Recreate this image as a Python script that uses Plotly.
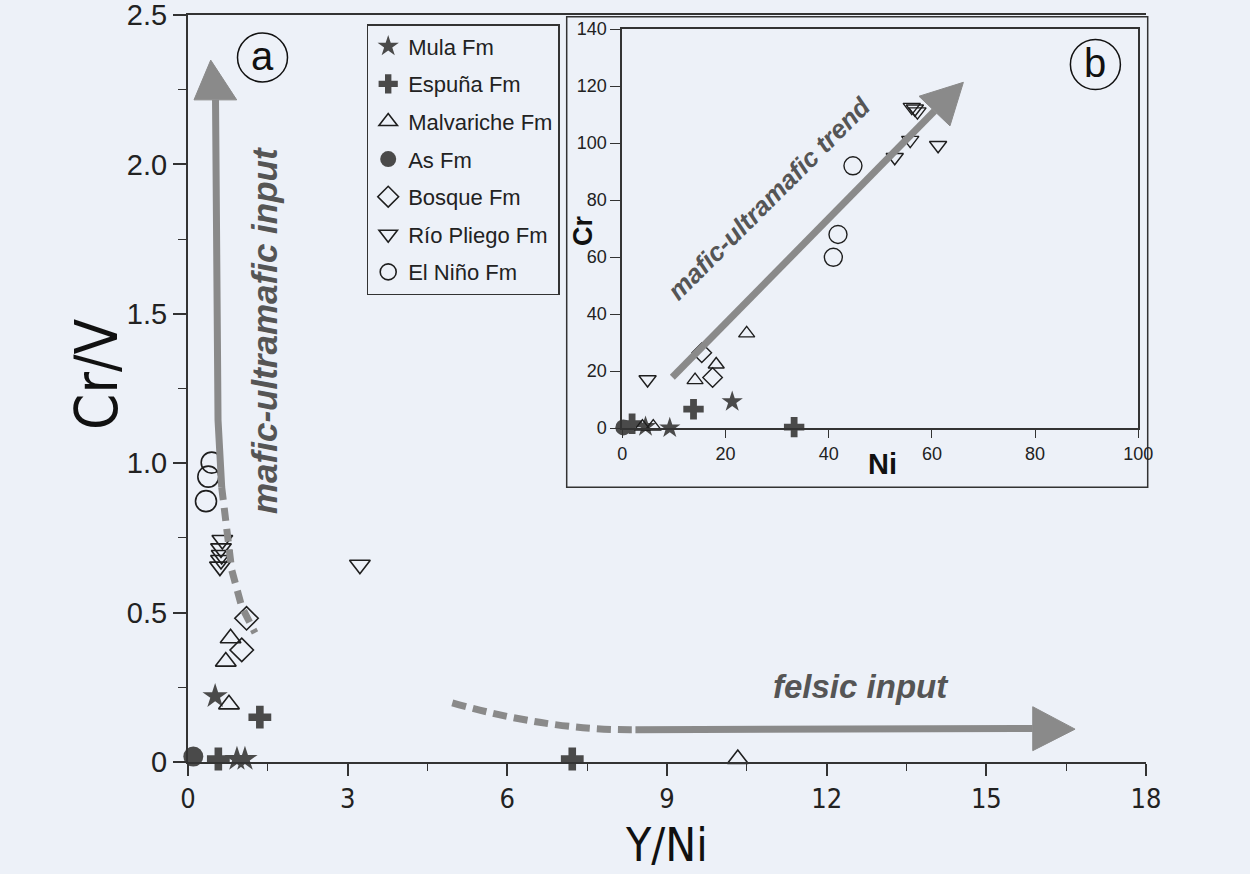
import plotly.graph_objects as go

# ---------------- data: main panel (a)  Y/Ni vs Cr/V ----------------
formations = ["Mula Fm", "Espuña Fm", "Malvariche Fm", "As Fm", "Bosque Fm", "Río Pliego Fm", "El Niño Fm"]

mula_yni = [0.51, 0.92, 1.07]
mula_crv = [0.22, 0.01, 0.01]
espuna_yni = [1.35, 0.57, 7.22]
espuna_crv = [0.15, 0.01, 0.01]
malvariche_yni = [0.80, 0.71, 0.77, 10.33]
malvariche_crv = [0.414, 0.336, 0.193, 0.01]
as_yni = [0.10]
as_crv = [0.018]
bosque_yni = [1.10, 1.01]
bosque_crv = [0.481, 0.375]
pliego_yni = [0.645, 0.62, 0.633, 0.62, 0.60, 3.23]
pliego_crv = [0.743, 0.715, 0.693, 0.676, 0.654, 0.660]
nino_yni = [0.445, 0.382, 0.338]
nino_crv = [1.002, 0.955, 0.873]

# ---------------- data: inset (b)  Ni vs Cr ----------------
mula_ni = [21.3, 9.2, 4.5]
mula_cr = [9.2, 0.0, 0.5]
espuna_ni = [13.8, 33.3, 1.9]
espuna_cr = [6.6, 0.3, 1.5]
malvariche_ni = [24.1, 18.2, 14.1, 3.9, 6.0]
malvariche_cr = [33.2, 22.3, 16.8, 0.5, 0.5]
as_ni = [0.2]
as_cr = [0.2]
bosque_ni = [15.4, 17.5]
bosque_cr = [26.4, 17.7]
pliego_ni = [4.9, 52.8, 55.8, 56.1, 56.7, 57.2, 61.2]
pliego_cr = [17.0, 95.0, 101.0, 112.6, 112.0, 111.0, 99.2]
nino_ni = [44.7, 41.8, 40.9]
nino_cr = [92.0, 67.9, 59.9]

# tick labels
x_ticks = [0, 3, 6, 9, 12, 15, 18]
y_ticks = [0, 0.5, 1.0, 1.5, 2.0, 2.5]
y_ticktext = ["0", "0.5", "1.0", "1.5", "2.0", "2.5"]
inset_x_ticks = [0, 20, 40, 60, 80, 100]
inset_y_ticks = [0, 20, 40, 60, 80, 100, 120, 140]

# trend arrows (in axis units)
mafic_solid = [(0.517, 2.216), (0.564, 1.145), (0.633, 0.920)]
mafic_dash = [(0.633, 0.920), (0.821, 0.643), (1.009, 0.520), (1.259, 0.432)]
mafic_head = [(0.113, 2.216), (0.427, 2.349), (0.915, 2.216)]
felsic_dash = [(4.966, 0.198), (6.80, 0.105), (8.407, 0.108)]
felsic_solid = [(8.407, 0.108), (15.872, 0.112)]
felsic_head = [(15.872, 0.185), (16.667, 0.110), (15.872, 0.038)]
trend_shaft = [(9.7, 17.8), (60.5, 111.2)]
trend_head = [(57.5, 116.4), (66.1, 121.3), (63.5, 106.0)]

BG = "#edf1f8"
DARK = "#4a4a4a"
INK = "#1e1e1e"
ARROW = "#8a8a8a"
NOTE = "#555555"
FONT = "Liberation Sans, Arial, sans-serif"
NARROW = "Liberation Sans Narrow, Arial Narrow, DejaVu Sans Condensed, sans-serif"

# plot-area geometry in pixels (for paper-coordinate decorations)
L, R, T, B = 188, 1146, 15, 762


def px(xp):
    return (xp - L) / (R - L)


def py(yp):
    return (B - yp) / (B - T)


styles = {
    "Mula Fm": dict(symbol="star", size=19, color=DARK, line=dict(width=0)),
    "Espuña Fm": dict(symbol="cross", size=19, color=DARK, line=dict(width=0)),
    "Malvariche Fm": dict(symbol="triangle-up-open", size=18, color=INK, line=dict(width=1.6)),
    "As Fm": dict(symbol="circle", size=20, color=DARK, line=dict(width=0)),
    "Bosque Fm": dict(symbol="diamond-open", size=18, color=INK, line=dict(width=1.6)),
    "Río Pliego Fm": dict(symbol="triangle-down-open", size=18, color=INK, line=dict(width=1.6)),
    "El Niño Fm": dict(symbol="circle-open", size=21, color=INK, line=dict(width=1.6)),
}
inset_sizes = {"Mula Fm": 16, "Espuña Fm": 17, "Malvariche Fm": 14, "As Fm": 16,
               "Bosque Fm": 15, "Río Pliego Fm": 15, "El Niño Fm": 18}

main_data = [
    (mula_yni, mula_crv), (espuna_yni, espuna_crv), (malvariche_yni, malvariche_crv),
    (as_yni, as_crv), (bosque_yni, bosque_crv), (pliego_yni, pliego_crv), (nino_yni, nino_crv),
]
inset_data = [
    (mula_ni, mula_cr), (espuna_ni, espuna_cr), (malvariche_ni, malvariche_cr),
    (as_ni, as_cr), (bosque_ni, bosque_cr), (pliego_ni, pliego_cr), (nino_ni, nino_cr),
]

fig = go.Figure()
for name, (xs, ys) in zip(formations, main_data):
    fig.add_trace(go.Scatter(x=xs, y=ys, mode="markers", name=name, legendgroup=name,
                             marker=styles[name], cliponaxis=False, xaxis="x", yaxis="y"))
for name, (xs, ys) in zip(formations, inset_data):
    st = dict(styles[name])
    st["size"] = inset_sizes[name]
    if "open" in st["symbol"]:
        st["line"] = dict(width=1.4)
    fig.add_trace(go.Scatter(x=xs, y=ys, mode="markers", name=name, legendgroup=name,
                             showlegend=False, marker=st, cliponaxis=False,
                             xaxis="x2", yaxis="y2"))


def poly(pts, close=False):
    s = "M " + " L ".join(f"{a},{b}" for a, b in pts)
    return s + (" Z" if close else "")


def quad(pts):
    (a, b), (c, d), (e, f) = pts
    return f"M {a},{b} Q {c},{d} {e},{f}"


shapes = [
    # mafic-ultramafic input arrow (panel a)
    dict(type="path", xref="x", yref="y", path=poly(mafic_solid),
         line=dict(color=ARROW, width=7)),
    dict(type="path", xref="x", yref="y", path=poly(mafic_dash),
         line=dict(color=ARROW, width=7, dash="13px,8px")),
    dict(type="path", xref="x", yref="y", path=poly(mafic_head, True),
         fillcolor=ARROW, line=dict(color=ARROW, width=1)),
    # felsic input arrow
    dict(type="path", xref="x", yref="y", path=quad(felsic_dash),
         line=dict(color=ARROW, width=7, dash="14px,7px")),
    dict(type="path", xref="x", yref="y", path=poly(felsic_solid),
         line=dict(color=ARROW, width=7)),
    dict(type="path", xref="x", yref="y", path=poly(felsic_head, True),
         fillcolor=ARROW, line=dict(color=ARROW, width=1)),
    # inset trend arrow
    dict(type="path", xref="x2", yref="y2", path=poly(trend_shaft),
         line=dict(color=ARROW, width=7)),
    dict(type="path", xref="x2", yref="y2", path=poly(trend_head, True),
         fillcolor=ARROW, line=dict(color=ARROW, width=1)),
    # inset frame
    dict(type="rect", xref="paper", yref="paper", x0=px(566.7), x1=px(1147.7),
         y0=py(487.3), y1=py(16.7), line=dict(color="#333", width=1.5), layer="below"),
    # panel labels circles
    dict(type="circle", xref="paper", yref="paper", x0=px(237.5), x1=px(287.5),
         y0=py(82), y1=py(33), line=dict(color="#111", width=1.5)),
    dict(type="circle", xref="paper", yref="paper", x0=px(1070.4), x1=px(1120.4),
         y0=py(89.5), y1=py(39.5), line=dict(color="#111", width=1.5)),
]

annotations = [
    dict(text="Cr/V", xref="paper", yref="paper", x=px(97), y=py(375), textangle=-90,
         showarrow=False, font=dict(family=NARROW, size=58, color="#111"),
         xanchor="center", yanchor="middle"),
    dict(text="Y/Ni", xref="paper", yref="paper", x=px(666), y=py(873),
         showarrow=False, font=dict(family=NARROW, size=46, color="#111"),
         xanchor="center", yanchor="bottom", borderpad=0),
    dict(text="<b><i>mafic-ultramafic input</i></b>", xref="paper", yref="paper",
         x=px(264), y=py(331), textangle=-90, showarrow=False,
         font=dict(size=35, color=NOTE), xanchor="center", yanchor="middle"),
    dict(text="<b><i>felsic input</i></b>", xref="paper", yref="paper",
         x=px(861), y=py(686), showarrow=False,
         font=dict(size=33, color=NOTE), xanchor="center", yanchor="middle"),
    dict(text="<b><i>mafic-ultramafic trend</i></b>", xref="x2", yref="y2",
         x=28.5, y=80.7, textangle=-45, showarrow=False,
         font=dict(size=26, color=NOTE), xanchor="center", yanchor="middle"),
    dict(text="a", xref="paper", yref="paper", x=px(262.5), y=py(56), showarrow=False,
         font=dict(size=40, color="#111"), xanchor="center", yanchor="middle"),
    dict(text="b", xref="paper", yref="paper", x=px(1095.4), y=py(63), showarrow=False,
         font=dict(size=40, color="#111"), xanchor="center", yanchor="middle"),
    dict(text="<b>Ni</b>", xref="paper", yref="paper", x=px(882), y=py(464),
         showarrow=False, font=dict(size=29, color="#111"), xanchor="center", yanchor="middle"),
    dict(text="<b>Cr</b>", xref="paper", yref="paper", x=px(583), y=py(231), textangle=-90,
         showarrow=False, font=dict(size=27, color="#111"), xanchor="center", yanchor="middle"),
]

axis_common = dict(showgrid=False, zeroline=False, showline=True, linecolor="#333",
                   ticks="outside", tickcolor="#333", automargin=False,
                   ticklabeloverflow="allow")

fig.update_layout(
    width=1250, height=874,
    margin=dict(l=L, r=1250 - R, t=T, b=874 - B, autoexpand=False),
    paper_bgcolor=BG, plot_bgcolor=BG,
    font=dict(family=FONT, color="#222"),
    xaxis=dict(domain=[0, 1], range=[0, 18], tickmode="array", tickvals=x_ticks,
               ticklen=12, tickwidth=1.5, linewidth=2, mirror=True,
               tickfont=dict(family=NARROW, size=27, color="#222"),
               minor=dict(tickmode="linear", tick0=0, dtick=1.5, ticklen=7, tickwidth=1.3,
                          ticks="outside", tickcolor="#333"),
               **axis_common),
    yaxis=dict(domain=[0, 1], range=[0, 2.5], tickmode="array", tickvals=y_ticks,
               ticktext=y_ticktext, ticklen=13, tickwidth=1.5, linewidth=2,
               tickfont=dict(size=29, color="#222"),
               minor=dict(tickmode="linear", tick0=0, dtick=0.25, ticklen=8, tickwidth=1.3,
                          ticks="outside", tickcolor="#333"),
               **axis_common),
    xaxis2=dict(domain=[px(622.3), px(1138.3)], anchor="y2", range=[0, 100],
                tickmode="array", tickvals=inset_x_ticks, ticklen=8, tickwidth=1.3,
                linewidth=1.8, mirror=True, tickfont=dict(size=18, color="#222"),
                **axis_common),
    yaxis2=dict(domain=[py(428), py(29)], anchor="x2", range=[0, 140],
                tickmode="array", tickvals=inset_y_ticks, ticklen=10, tickwidth=1.3,
                linewidth=1.8, mirror=True, tickfont=dict(size=18, color="#222"),
                **axis_common),
    showlegend=True,
    legend=dict(x=px(366.7), y=py(24), xanchor="left", yanchor="top",
                bgcolor=BG, bordercolor="#333", borderwidth=1.5,
                font=dict(size=22, color="#222"), traceorder="grouped",
                tracegroupgap=6, itemsizing="trace"),
    shapes=shapes,
    annotations=annotations,
)

fig.write_html(
    "out.html",
    config={"displayModeBar": False},
    post_script="document.body.style.margin='0';document.body.style.overflow='hidden';"
                "document.body.style.background='" + BG + "';",
)
